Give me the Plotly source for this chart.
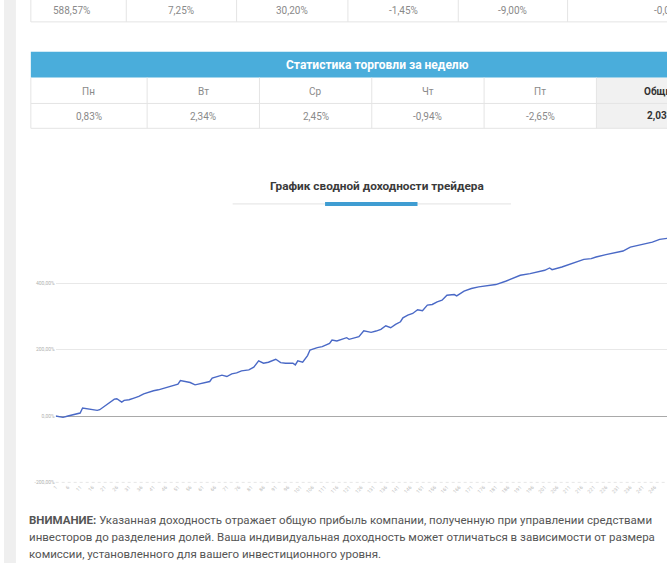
import plotly.graph_objects as go

W, H = 667, 566

# ---------------- data ----------------
top_values = ["588,57%", "7,25%", "30,20%", "-1,45%", "-9,00%", "-0,05%"]
week_days = ["Пн", "Вт", "Ср", "Чт", "Пт", "Общий"]
week_values = ["0,83%", "2,34%", "2,45%", "-0,94%", "-2,65%", "2,03%"]
table_title = "Статистика торговли за неделю"
chart_title = "График сводной доходности трейдера"
note_lines = [
    "<b>ВНИМАНИЕ:</b> Указанная доходность отражает общую прибыль компании, полученную при управлении средствами",
    "инвесторов до разделения долей. Ваша индивидуальная доходность может отличаться в зависимости от размера",
    "комиссии, установленного для вашего инвестиционного уровня.",
]

day = [1, 4, 6, 8, 10, 11, 12, 14, 16, 18, 19, 21, 23, 25, 26, 28, 29, 31, 33, 35,
       37, 39, 41, 43, 45, 47, 49, 51, 52, 54, 56, 58, 60, 62, 64, 65, 67, 69, 71, 73,
       75, 77, 80, 82, 84, 86, 88, 91, 93, 95, 98, 99, 100, 102, 104, 105, 108, 110, 113, 114,
       116, 118, 120, 121, 123, 125, 127, 130, 132, 134, 136, 138, 140, 142, 143, 145, 147, 149, 151, 153,
       155, 157, 159, 161, 164, 165, 168, 171, 174, 178, 181, 185, 188, 191, 195, 198, 201, 203, 204, 208,
       211, 214, 217, 220, 222, 226, 229, 233, 236, 239, 243, 245, 248, 251, 254]
profit = [0, -4, 0, 4, 6, 9, 24, 22, 20, 17, 19, 29, 39, 51, 52, 42, 47, 49, 54, 59,
          67, 72, 76, 79, 83, 87, 92, 96, 107, 104, 101, 94, 97, 99, 104, 114, 119, 123, 119, 127,
          130, 136, 139, 147, 166, 159, 162, 171, 161, 159, 159, 154, 166, 162, 182, 199, 206, 209, 219, 229,
          226, 232, 236, 231, 236, 239, 257, 252, 256, 261, 272, 266, 276, 284, 296, 304, 309, 320, 317, 334,
          336, 344, 349, 364, 366, 362, 376, 384, 389, 392, 396, 406, 414, 424, 429, 434, 439, 446, 441, 449,
          457, 464, 472, 474, 479, 486, 491, 497, 509, 514, 519, 524, 532, 534, 538]

y_ticks = [-200, 0, 200, 400]
y_tick_text = ["-200,00%", "0,00%", "200,00%", "400,00%"]
x_ticks = list(range(1, 252, 5))
x_tick_text = [str(v) for v in x_ticks]


def px(x):
    return x / W


def py(y):
    return 1 - y / H


fig = go.Figure()
fig.add_trace(go.Scatter(x=day, y=profit, mode="lines",
                         line=dict(color="#4a69c6", width=1.4),
                         hoverinfo="skip", showlegend=False))

shapes = []
ann = []

# left grey strip
shapes.append(dict(type="rect", xref="paper", yref="paper", x0=0, x1=px(12), y0=0, y1=1,
                   fillcolor="#efefef", line=dict(width=0), layer="below"))

border = "#e4e4e4"
# ---------- top (partial) table ----------
top_cols = [13, 123, 234, 346, 457, 567, 770]
for i, v in enumerate(top_values):
    cx = (top_cols[i] + top_cols[i + 1]) / 2
    ann.append(dict(x=px(cx), y=py(11), xref="paper", yref="paper", text=v, showarrow=False,
                    font=dict(family="Roboto", size=10, color="#8a8a8a"), xanchor="center", yanchor="middle"))
for c in top_cols[1:-1]:
    shapes.append(dict(type="line", xref="paper", yref="paper", x0=px(c), x1=px(c), y0=py(0), y1=py(22),
                       line=dict(color=border, width=1)))
shapes.append(dict(type="line", xref="paper", yref="paper", x0=px(27), x1=px(27), y0=py(0), y1=py(22),
                   line=dict(color=border, width=1)))
shapes.append(dict(type="line", xref="paper", yref="paper", x0=px(27), x1=1, y0=py(22), y1=py(22),
                   line=dict(color=border, width=1)))

# ---------- week table ----------
wk_cols = [27, 144, 257, 370, 483, 596, 725]
shapes.append(dict(type="rect", xref="paper", yref="paper", x0=px(27), x1=1, y0=py(78), y1=py(52),
                   fillcolor="#4aaddb", line=dict(width=0)))
ann.append(dict(x=px(376), y=py(65), xref="paper", yref="paper", text="<b>" + table_title + "</b>",
                showarrow=False, font=dict(family="Roboto", size=12, color="white"),
                xanchor="center", yanchor="middle"))
shapes.append(dict(type="rect", xref="paper", yref="paper", x0=px(596), x1=1, y0=py(129), y1=py(78),
                   fillcolor="#f1f1f1", line=dict(width=0), layer="below"))
for c in wk_cols[:-1]:
    shapes.append(dict(type="line", xref="paper", yref="paper", x0=px(c), x1=px(c), y0=py(78), y1=py(129),
                       line=dict(color=border, width=1)))
for r in [104, 129]:
    shapes.append(dict(type="line", xref="paper", yref="paper", x0=px(27), x1=1, y0=py(r), y1=py(r),
                       line=dict(color=border, width=1)))
for i in range(len(week_days)):
    cx = (wk_cols[i] + wk_cols[i + 1]) / 2
    bold = i == len(week_days) - 1
    for txt, yy in [(week_days[i], 92), (week_values[i], 117)]:
        ann.append(dict(x=px(cx), y=py(yy), xref="paper", yref="paper",
                        text=("<b>%s</b>" % txt) if bold else txt, showarrow=False,
                        font=dict(family="Roboto", size=10, color="#333" if bold else "#8a8a8a"),
                        xanchor="center", yanchor="middle"))

# ---------- chart title ----------
ann.append(dict(x=px(375), y=py(187), xref="paper", yref="paper", text="<b>" + chart_title + "</b>",
                showarrow=False, font=dict(family="Roboto", size=11.8, color="#3a3a3a"),
                xanchor="center", yanchor="middle"))
shapes.append(dict(type="line", xref="paper", yref="paper", x0=px(230), x1=px(510), y0=py(205), y1=py(205),
                   line=dict(color="#e2e2e2", width=1)))
shapes.append(dict(type="line", xref="paper", yref="paper", x0=px(323), x1=px(416), y0=py(205), y1=py(205),
                   line=dict(color="#3f9dd2", width=4)))

# dotted baseline at the axis bottom
shapes.append(dict(type="line", xref="paper", yref="y", x0=px(52), x1=1, y0=y_ticks[0], y1=y_ticks[0],
                   line=dict(color="#cfcfcf", width=1, dash="dot")))

# ---------- note ----------
for i, t in enumerate(note_lines):
    ann.append(dict(x=px(23), y=py(523 + 17 * i), xref="paper", yref="paper", text=t, showarrow=False,
                    font=dict(family="Roboto", size=11.5, color="#555"), xanchor="left", yanchor="middle"))

fig.update_layout(
    width=W, height=H, autosize=False,
    margin=dict(l=0, r=0, t=0, b=0),
    paper_bgcolor="white", plot_bgcolor="white",
    shapes=shapes, annotations=ann,
    xaxis=dict(domain=[px(52), 1], range=[1, 251], tickvals=x_ticks, ticktext=x_tick_text,
               tickangle=-45, tickfont=dict(family="Roboto", size=5, color="#bdbdbd"),
               showgrid=False, zeroline=False, showline=False, ticks=""),
    yaxis=dict(domain=[py(485), py(228)], range=[-200, 570], tickvals=y_ticks, ticktext=y_tick_text,
               tickfont=dict(family="Roboto", size=5, color="#b0b0b0"), gridcolor="#e8e8e8",
               zeroline=True, zerolinecolor="#a9a9a9", zerolinewidth=1, showline=False, ticks=""),
)

fig.write_html("out.html", config={"displayModeBar": False},
               post_script="document.body.style.margin='0';document.body.style.overflow='hidden';")
